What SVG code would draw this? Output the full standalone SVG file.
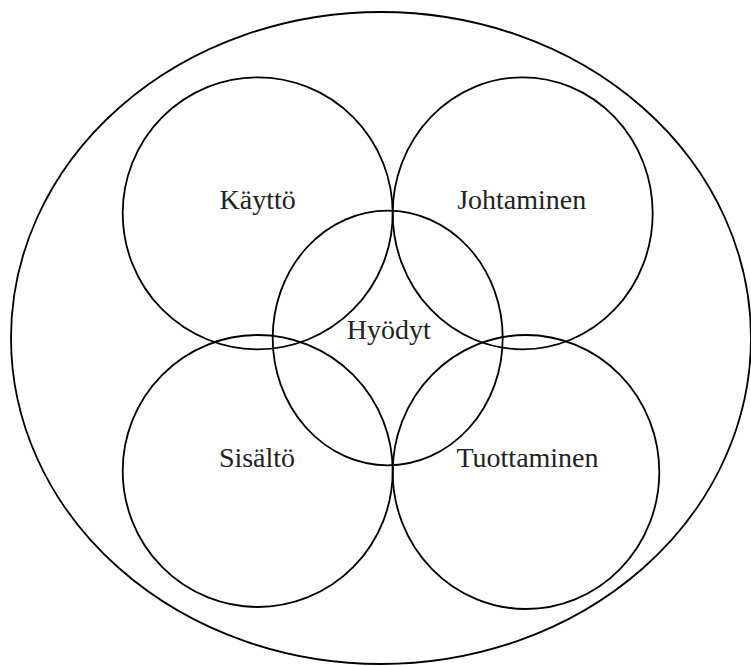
<svg xmlns="http://www.w3.org/2000/svg" width="751" height="666" viewBox="0 0 751 666">
<style>
.s{fill:none;stroke:#000;stroke-width:1.8}
text{font-family:"Liberation Serif","Times New Roman",serif;font-size:28px;fill:#222;text-anchor:middle}
</style>
<rect width="751" height="666" fill="#fff"/>
<g id="outer"><ellipse class="s" cx="381" cy="338" rx="370" ry="326"/></g>
<g id="kaytto"><ellipse class="s" cx="257.7" cy="213.3" rx="135" ry="136"/><text x="257.7" y="209">Käyttö</text></g>
<g id="johtaminen"><ellipse class="s" cx="522.7" cy="213.3" rx="130" ry="136"/><text x="521.7" y="209">Johtaminen</text></g>
<g id="sisalto"><ellipse class="s" cx="257.7" cy="471" rx="135" ry="136"/><text x="257" y="467">Sisältö</text></g>
<g id="tuottaminen"><ellipse class="s" cx="526" cy="472" rx="133.3" ry="137"/><text x="527.5" y="467">Tuottaminen</text></g>
<g id="hyodyt"><ellipse class="s" cx="387.7" cy="338" rx="115" ry="127.3"/><text x="388.7" y="339">Hyödyt</text></g>
<g id="connectors"></g>
</svg>
